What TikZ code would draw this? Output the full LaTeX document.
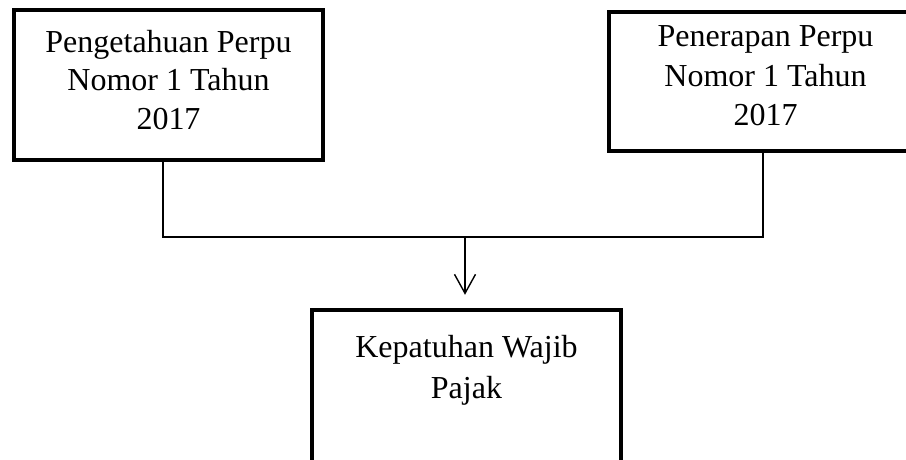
\documentclass[tikz,border=0pt]{standalone}
\usepackage{fontspec}
\setmainfont{Liberation Serif}
\usetikzlibrary{positioning,arrows.meta}

\tikzset{
kotak/.style={draw=black,line width=4.5pt,fill=white,inner sep=0pt,minimum width=309pt},
teks/.style={align=center,inner sep=0pt,font=\fontsize{32}{38.5}\selectfont},
garis/.style={draw=black,line width=1.4pt}
}

\begin{document}
\begin{tikzpicture}[x=1pt,y=-1pt]
\useasboundingbox (0,0) rectangle (906,459);
% kotak atas kiri dan kanan
\node[kotak,minimum height=150pt] (tahu) at (168.5,85) {};
\node[kotak,minimum width=313pt,minimum height=139pt] (terap) at (765.5,81.5) {};
% kotak bawah
\node[kotak,minimum height=160pt] (patuh) at (466.5,390) {};
\node[teks,below=22pt of tahu.north] (tahutxt) {Pengetahuan Perpu\\Nomor 1 Tahun\\2017};
\node[teks,below=16pt of terap.north,font=\fontsize{32}{39.5}\selectfont] (teraptxt) {Penerapan Perpu\\Nomor 1 Tahun\\2017};
\node[teks,below=27pt of patuh.north,font=\fontsize{32}{41}\selectfont] (patuhtxt) {Kepatuhan Wajib\\Pajak};
\coordinate (temu) at (465,237);
\draw[garis] ([xshift=-5.5pt]tahu.south) |- (temu) -| ([xshift=-2.5pt]terap.south);
\draw[garis,-{Straight Barb[length=19pt,width=21pt,line width=1.4pt]},shorten >=13pt] (temu) -- (temu |- patuh.north);
\end{tikzpicture}
\end{document}
